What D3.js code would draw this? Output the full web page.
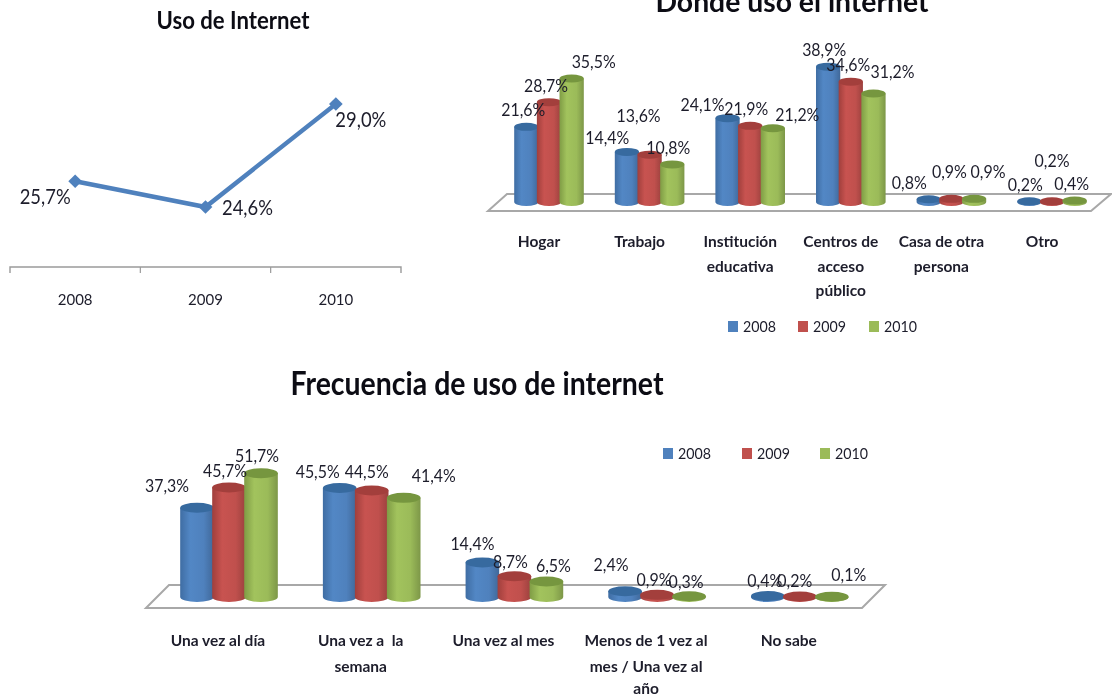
<!DOCTYPE html>
<html><head><meta charset="utf-8">
<script src="https://cdn.jsdelivr.net/npm/d3@7"></script>
<style>
html,body{margin:0;padding:0;background:#fff;overflow:hidden}
svg{display:block;filter:blur(0.35px)}
text{font-family:Lato,"Open Sans",sans-serif;fill:#1d1d2b}
</style></head><body>
<svg id="c" width="1112" height="697"></svg>
<script>
// ---- data ----
const years = ["2008","2009","2010"];
const internetUse = [25.7,24.6,29.0];

const placeCategories = [["Hogar"],["Trabajo"],["Institución","educativa"],["Centros de","acceso","público"],["Casa de otra","persona"],["Otro"]];
const place2008 = [21.6,14.4,24.1,38.9,0.8,0.2];
const place2009 = [28.7,13.6,21.9,34.6,0.9,0.2];
const place2010 = [35.5,10.8,21.2,31.2,0.9,0.4];

const freqCategories = [["Una vez al día"],["Una vez a  la","semana"],["Una vez al mes"],["Menos de 1 vez al","mes / Una vez al","año"],["No sabe"]];
const freq2008 = [37.3,45.5,14.4,2.4,0.4];
const freq2009 = [45.7,44.5,8.7,0.9,0.2];
const freq2010 = [51.7,41.4,6.5,0.3,0.1];

const seriesColors = ["#4F81BD","#C0504D","#9BBB59"];
const seriesTops   = ["#376a9f","#a33f3c","#76963f"];
const seriesEdges  = ["#3f6da3","#a03f3c","#7f9c45"];

// label placement relative to top of each bar (layout only)
const placeLabelOffsets = [
 [[-3,-17],[-3,-16],[22,-16.5]],
 [[-19.6,-14],[-11,-39],[-4,-16]],
 [[-25,-13],[-4,-17],[24.5,-13]],
 [[-4,-17],[-2.5,-17],[19,-21]],
 [[-19.4,-16],[-2,-27],[14,-27]],
 [[-4,-16],[0,-40],[-3,-17]]
];
const freqLabelOffsets = [
 [[-30,-22],[-4,-16.5],[-4,-17]],
 [[-22,-16],[-5,-18],[30,-22]],
 [[-10,-18.5],[-4,-14],[7,-15]],
 [[-14,-26],[-3,-15],[-3,-14]],
 [[-3,-15],[-5,-15.5],[17,-22]]
];

const fmt = v => v.toFixed(1).replace(".",",")+"%";
const svg = d3.select("#c");
const defs = svg.append("defs");
seriesColors.forEach((c,i)=>{
  const g = defs.append("linearGradient").attr("id","cyl"+i);
  const col = d3.color(c);
  g.append("stop").attr("offset","0%").attr("stop-color",seriesEdges[i]);
  g.append("stop").attr("offset","30%").attr("stop-color",col.brighter(0.12));
  g.append("stop").attr("offset","70%").attr("stop-color",col);
  g.append("stop").attr("offset","100%").attr("stop-color",col.darker(0.6));
});

function title(txt,x,y,size,len){
  svg.append("text").attr("x",x).attr("y",y).attr("text-anchor","middle")
    .attr("font-size",size).attr("font-weight",700).style("fill","#0c0c14")
    .attr("textLength",len).attr("lengthAdjust","spacingAndGlyphs").text(txt);
}
title("Uso de Internet",233,29,24,153);
title("Donde uso el internet",792,12,29,273);
title("Frecuencia de uso de internet",477,395,32,373);

// ---- line chart ----
(function(){
  const x = d3.scaleBand().domain(years).range([10,401]);
  const y = d3.scaleLinear().domain([24.6,29]).range([207,104]);
  const ax = svg.append("g").attr("transform","translate(0,267)")
    .call(d3.axisBottom(x).tickSize(0).tickPadding(27));
  ax.select(".domain").remove();
  ax.selectAll("text").attr("font-size",15).style("font-family","Lato,sans-serif");
  const edges = [...years.map(d=>x(d)),x.range()[1]];
  svg.append("path").attr("d",`M${edges[0]},273V267H${edges[3]}V273`).attr("fill","none").attr("stroke","#9a9a9a").attr("stroke-width",1.4);
  edges.slice(1,3).forEach(e=>svg.append("line").attr("x1",e).attr("x2",e).attr("y1",267).attr("y2",273).attr("stroke","#9a9a9a").attr("stroke-width",1.2));
  const cx = d=>x(d)+x.bandwidth()/2;
  svg.append("path").datum(years).attr("fill","none").attr("stroke",seriesColors[0]).attr("stroke-width",4.5)
    .attr("d",d3.line().x(cx).y((d,i)=>y(internetUse[i])));
  svg.selectAll(".m").data(years).join("path").attr("fill",seriesColors[0])
    .attr("transform",(d,i)=>`translate(${cx(d)},${y(internetUse[i])})`)
    .attr("d",d3.symbol(d3.symbolDiamond2,120));
  const off = [[-30,16],[42,1],[25,16]];
  svg.selectAll(".l").data(years).join("text").attr("text-anchor","middle").attr("font-size",21)
    .attr("textLength",51).attr("lengthAdjust","spacingAndGlyphs")
    .attr("x",(d,i)=>cx(d)+off[i][0]).attr("y",(d,i)=>y(internetUse[i])+off[i][1]+7)
    .text((d,i)=>fmt(internetUse[i]));
})();

// ---- 3D cylinder charts ----
function bars(o){
  const names = o.categories.map((_,i)=>"c"+i);
  const x0 = d3.scaleBand().domain(names).range(o.xRange).paddingInner(o.padding).paddingOuter(o.padding/2);
  const x1 = d3.scaleBand().domain(years).range([0,x0.bandwidth()]);
  const y = d3.scaleLinear().domain([0,o.maxV]).range([o.base,o.topY]);
  svg.append("path").attr("d",o.floorPath).attr("fill","#fff").attr("stroke","#a8a8a8").attr("stroke-width",2);
  const w = x1.bandwidth();
  o.series.forEach((vals,s)=>{
    vals.forEach((v,i)=>{
      const cx = x0(names[i])+x1(years[s])+w/2, t = y(v), b = y(0), rx = w/2+0.8, ry = o.ry;
      const g = svg.append("g");
      g.append("path").attr("fill",`url(#cyl${s})`)
        .attr("d",`M${cx-rx},${t}V${b}A${rx},${ry} 0 0 0 ${cx+rx},${b}V${t}Z`);
      g.append("ellipse").attr("cx",cx).attr("cy",t).attr("rx",rx).attr("ry",ry).attr("fill",seriesTops[s]);
    });
  });
  o.series.forEach((vals,s)=>{
    vals.forEach((v,i)=>{
      const cx = x0(names[i])+x1(years[s])+w/2, off = o.offsets[i][s];
      svg.append("text").attr("text-anchor","middle").attr("font-size",o.labelSize)
        .attr("textLength",v>=10?o.labelLen:o.labelLen-9).attr("lengthAdjust","spacingAndGlyphs")
        .attr("x",cx+off[0]).attr("y",y(v)+off[1]+6).text(fmt(v));
    });
  });
  o.categories.forEach((lines,i)=>{
    const cx = x0(names[i])+x0.bandwidth()/2+o.catDx;
    lines.forEach((ln,k)=>svg.append("text").attr("text-anchor","middle").attr("font-size",15.5).attr("font-weight",700)
      .attr("x",cx).attr("y",o.catYs[k]).style("white-space","pre").text(ln));
  });
  // legend
  years.forEach((yr,s)=>{
    const lx = o.legendX[s];
    svg.append("rect").attr("x",lx).attr("y",o.legendY-5).attr("width",10).attr("height",11).attr("fill",seriesColors[s]);
    svg.append("text").attr("x",lx+15).attr("y",o.legendY+6).attr("font-size",16)
      .attr("textLength",33).attr("lengthAdjust","spacingAndGlyphs").text(yr);
  });
}
bars({categories:placeCategories,series:[place2008,place2009,place2010],xRange:[498.7,1102.3],padding:0.324,
  maxV:35.5,base:202,topY:78.5,ry:4,offsets:placeLabelOffsets,labelSize:16.5,labelLen:44,
  floorPath:"M488,211L507,194H1111L1091,211Z",catDx:-10,catYs:[247,272,296],legendX:[728,798,869],legendY:326});
bars({categories:freqCategories,series:[freq2008,freq2009,freq2010],xRange:[157.65,871.15],padding:0.327,
  maxV:51.7,base:597,topY:473.2,ry:5,offsets:freqLabelOffsets,labelSize:16.5,labelLen:44,
  floorPath:"M146,608L169,585H885L862,608Z",catDx:-11,catYs:[646,672,694],legendX:[663,742,820],legendY:453});
</script></body></html>
